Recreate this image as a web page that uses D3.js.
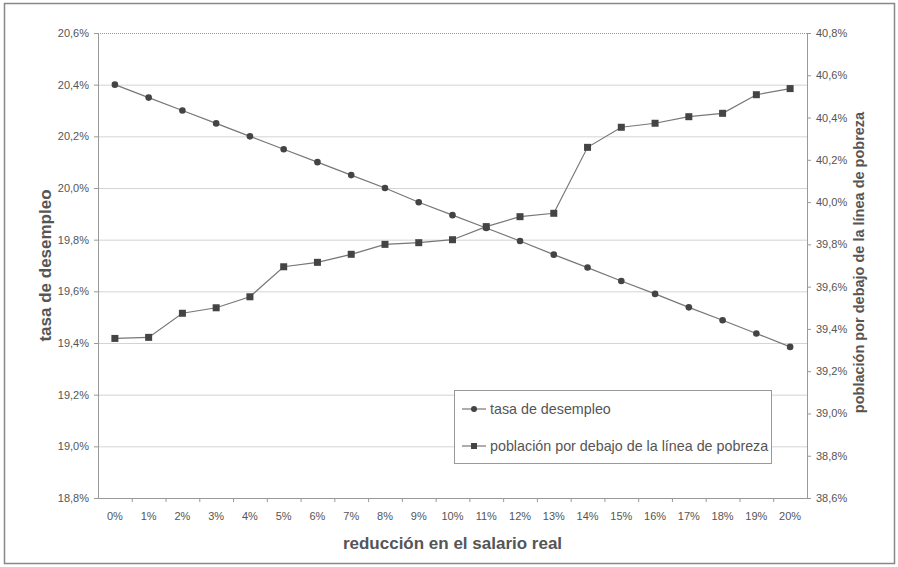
<!DOCTYPE html>
<html>
<head>
<meta charset="utf-8">
<script src="https://cdn.jsdelivr.net/npm/d3@7"></script>
<style>
body { margin: 0; background: #fff; }
text { font-family: "Liberation Sans", Arial, sans-serif; fill: #555; }
</style>
</head>
<body>
<div id="chart"></div>
<script>
// data (values in %)
const categories = d3.range(0, 21).map(d => d + '%')
const desempleo = [20.40, 20.35, 20.30, 20.25, 20.20, 20.15, 20.10, 20.05, 20.00, 19.945, 19.895,
	19.845, 19.795, 19.742, 19.692, 19.64, 19.59, 19.538, 19.488, 19.437, 19.385]
const pobreza = [39.355, 39.36, 39.474, 39.50, 39.552, 39.694, 39.715, 39.753, 39.80, 39.808, 39.822,
	39.884, 39.931, 39.947, 40.259, 40.354, 40.373, 40.404, 40.42, 40.508, 40.537]
const left_ticks = [18.8, 19.0, 19.2, 19.4, 19.6, 19.8, 20.0, 20.2, 20.4, 20.6]
const right_ticks = [38.6, 38.8, 39.0, 39.2, 39.4, 39.6, 39.8, 40.0, 40.2, 40.4, 40.6, 40.8]
const series_names = ['tasa de desempleo', 'población por debajo de la línea de pobreza']

const W = 898, H = 567
const margin = {top: 33, right: 91, bottom: 69, left: 98}
const width = W - margin.left - margin.right
const height = H - margin.top - margin.bottom

const es = d3.formatLocale({decimal: ',', thousands: '.', grouping: [3], currency: ['', '€']})
const pct = v => es.format('.1f')(v) + '%'

const svg = d3.select('#chart').append('svg')
	.attr('width', W).attr('height', H)

// outer frame
svg.append('rect')
	.attr('x', 4.5).attr('y', 3.5).attr('width', 890).attr('height', 560)
	.attr('fill', 'none').attr('stroke', '#888').attr('stroke-width', 1.5)

const g = svg.append('g').attr('transform', 'translate(' + [margin.left, margin.top] + ')')

const x = d3.scaleBand().domain(categories).range([0, width])
const y = d3.scaleLinear().domain([18.8, 20.6]).range([height, 0])
const y2 = d3.scaleLinear().domain([38.6, 40.8]).range([height, 0])

// gridlines
g.selectAll('.grid').data(left_ticks.filter(d => d > 18.8))
	.enter().append('line')
	.attr('class', 'grid')
	.attr('x1', 0).attr('x2', width)
	.attr('y1', d => y(d) + 0.5).attr('y2', d => y(d) + 0.5)
	.attr('stroke', d => d === 20.6 ? '#999' : '#d4d4d4')
	.attr('stroke-dasharray', d => d === 20.6 ? '1,1' : null)

// axes
const left_axis = d3.axisLeft(y).tickValues(left_ticks).tickFormat(pct).tickSize(4).tickPadding(5)
const right_axis = d3.axisRight(y2).tickValues(right_ticks).tickFormat(pct).tickSize(4).tickPadding(5)
const bottom_axis = d3.axisBottom(x).tickSize(0).tickPadding(14)

const gl = g.append('g').call(left_axis)
const gr = g.append('g').attr('transform', 'translate(' + width + ',0)').call(right_axis)
const gb = g.append('g').attr('transform', 'translate(0,' + height + ')').call(bottom_axis)
;[gl, gr, gb].forEach(a => {
	a.select('.domain').attr('stroke', '#999')
	a.selectAll('.tick line').attr('stroke', '#999')
	a.selectAll('.tick text').style('font-size', '11px').attr('fill', '#666')
})
// category separators on the x axis
gb.selectAll('.sep').data(categories.slice(1))
	.enter().append('line')
	.attr('x1', d => x(d) + 0.5).attr('x2', d => x(d) + 0.5)
	.attr('y1', 0).attr('y2', 4)
	.attr('stroke', '#999')

// lines
const cx = d => x(d) + x.bandwidth() / 2
const line1 = d3.line().x((d, i) => cx(categories[i])).y(d => y(d))
const line2 = d3.line().x((d, i) => cx(categories[i])).y(d => y2(d))

g.append('path').datum(desempleo).attr('d', line1)
	.attr('fill', 'none').attr('stroke', '#777').attr('stroke-width', 1.2)
g.append('path').datum(pobreza).attr('d', line2)
	.attr('fill', 'none').attr('stroke', '#777').attr('stroke-width', 1.2)

g.selectAll('.dot').data(desempleo)
	.enter().append('circle')
	.attr('cx', (d, i) => cx(categories[i])).attr('cy', d => y(d))
	.attr('r', 3.3).attr('fill', '#444')
g.selectAll('.sq').data(pobreza)
	.enter().append('rect')
	.attr('x', (d, i) => cx(categories[i]) - 3.5).attr('y', d => y2(d) - 3.5)
	.attr('width', 7).attr('height', 7).attr('fill', '#444')

// axis titles
svg.append('text')
	.attr('transform', 'translate(51,' + (margin.top + height / 2) + ') rotate(-90)')
	.attr('text-anchor', 'middle')
	.style('font-size', '17px').style('font-weight', 'bold')
	.text('tasa de desempleo')
svg.append('text')
	.attr('transform', 'translate(864,' + (margin.top + height / 2 - 3) + ') rotate(-90)')
	.attr('text-anchor', 'middle')
	.style('font-size', '14.5px').style('font-weight', 'bold')
	.text(series_names[1])
svg.append('text')
	.attr('x', margin.left + width / 2).attr('y', 549)
	.attr('text-anchor', 'middle')
	.style('font-size', '17px').style('font-weight', 'bold')
	.text('reducción en el salario real')

// legend
const lg = svg.append('g').attr('transform', 'translate(454,390)')
lg.append('rect').attr('x', 0.5).attr('y', 0.5).attr('width', 317).attr('height', 73)
	.attr('fill', '#fff').attr('stroke', '#999')
series_names.forEach((name, i) => {
	const yy = 19 + i * 37
	lg.append('line').attr('x1', 8).attr('x2', 32).attr('y1', yy).attr('y2', yy)
		.attr('stroke', '#777').attr('stroke-width', 1.2)
	if (i === 0) lg.append('circle').attr('cx', 20).attr('cy', yy).attr('r', 3).attr('fill', '#444')
	else lg.append('rect').attr('x', 17).attr('y', yy - 3).attr('width', 6).attr('height', 6).attr('fill', '#444')
	lg.append('text').attr('x', 36).attr('y', yy + 5)
		.style('font-size', '14.3px').text(name)
})
</script>
</body>
</html>
